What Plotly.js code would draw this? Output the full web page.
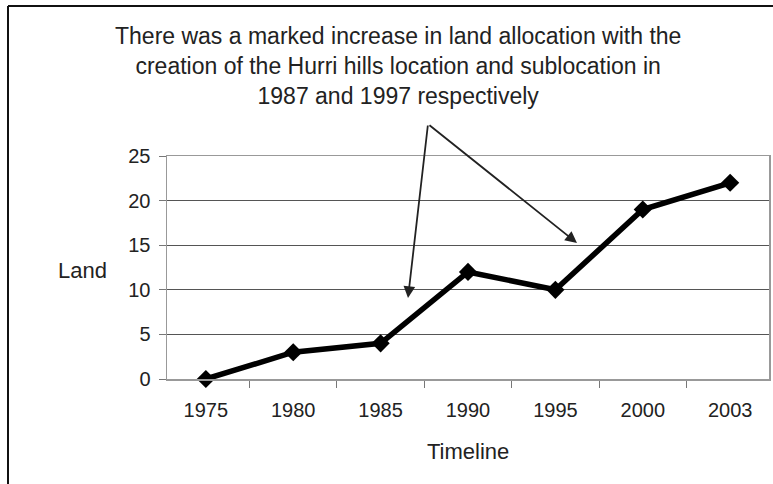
<!DOCTYPE html>
<html>
<head>
<meta charset="utf-8">
<script src="https://cdn.plot.ly/plotly-3.0.1.min.js"></script>
<style>html,body{margin:0;padding:0;background:#fff;}#chart{width:773px;height:484px;}</style>
</head>
<body>
<div id="chart"></div>
<script>
const years = ["1975", "1980", "1985", "1990", "1995", "2000", "2003"];
const land = [0, 3, 4, 12, 10, 19, 22];
const yTicks = [0, 5, 10, 15, 20, 25];
const titleText = "There was a marked increase in land allocation with the<br>creation of the Hurri hills location and sublocation in<br>1987 and 1997 respectively";
const xTitle = "Timeline";
const yTitle = "Land";

const F = "Liberation Sans, Arial, Helvetica, sans-serif";
const W = 773, H = 484;
const L = 167, R = 4, T = 156, B = 105;
const pw = W - L - R, ph = H - T - B;
const px = x => (x - L) / pw;
const py = y => (H - B - y) / ph;

const trace = {
  x: years, y: land, type: "scatter", mode: "lines+markers",
  line: {color: "#000", width: 5.5},
  marker: {symbol: "diamond", size: 14, color: "#000"},
  cliponaxis: false, hoverinfo: "skip"
};

const layout = {
  width: W, height: H,
  margin: {l: L, r: R, t: T, b: B, pad: 0},
  paper_bgcolor: "#fff", plot_bgcolor: "#fff",
  showlegend: false,
  font: {family: F, color: "#222", size: 20},
  xaxis: {
    type: "category", categoryorder: "array", categoryarray: years,
    tickson: "boundaries", ticks: "outside", ticklen: 7, tickwidth: 1, tickcolor: "#777",
    showgrid: false, zeroline: false,
    showline: true, linecolor: "#999", linewidth: 1.5, mirror: true,
    tickfont: {family: F, size: 20, color: "#222"},
    ticklabelstandoff: 12,
    fixedrange: true
  },
  yaxis: {
    range: [0, 25], tickvals: yTicks, ticktext: yTicks.map(String),
    ticks: "outside", ticklen: 7, tickwidth: 1, tickcolor: "#777",
    showgrid: true, gridcolor: "#555", gridwidth: 1,
    zeroline: false,
    showline: true, linecolor: "#999", linewidth: 1.5, mirror: true,
    tickfont: {family: F, size: 20, color: "#222"},
    ticklabelstandoff: 4,
    fixedrange: true
  },
  shapes: [
    {type: "line", xref: "paper", yref: "paper", x0: px(8), x1: px(8), y0: py(6), y1: py(490), line: {color: "#111", width: 2}},
    {type: "line", xref: "paper", yref: "paper", x0: px(8), x1: px(780), y0: py(6), y1: py(6), line: {color: "#111", width: 2}}
  ],
  annotations: [
    {text: titleText, xref: "paper", yref: "paper", x: px(398), y: py(66), xanchor: "center", yanchor: "middle",
     showarrow: false, font: {family: F, size: 23, color: "#222"}, align: "center"},
    {text: xTitle, xref: "paper", yref: "paper", x: px(468), y: py(451), xanchor: "center", yanchor: "middle",
     showarrow: false, font: {family: F, size: 22, color: "#222"}},
    {text: yTitle, xref: "paper", yref: "paper", x: px(82), y: py(270), xanchor: "center", yanchor: "middle",
     showarrow: false, font: {family: F, size: 22, color: "#222"}},
    {text: "", xref: "paper", yref: "paper", x: px(408), y: py(298), ax: 20, ay: -174,
     showarrow: true, arrowhead: 2, arrowsize: 1.3, arrowwidth: 1.8, arrowcolor: "#222", standoff: 0},
    {text: "", xref: "paper", yref: "paper", x: px(577), y: py(243), ax: -149, ay: -119,
     showarrow: true, arrowhead: 2, arrowsize: 1.3, arrowwidth: 1.8, arrowcolor: "#222", standoff: 0}
  ]
};

Plotly.newPlot("chart", [trace], layout, {displayModeBar: false, staticPlot: true});
</script>
</body>
</html>
